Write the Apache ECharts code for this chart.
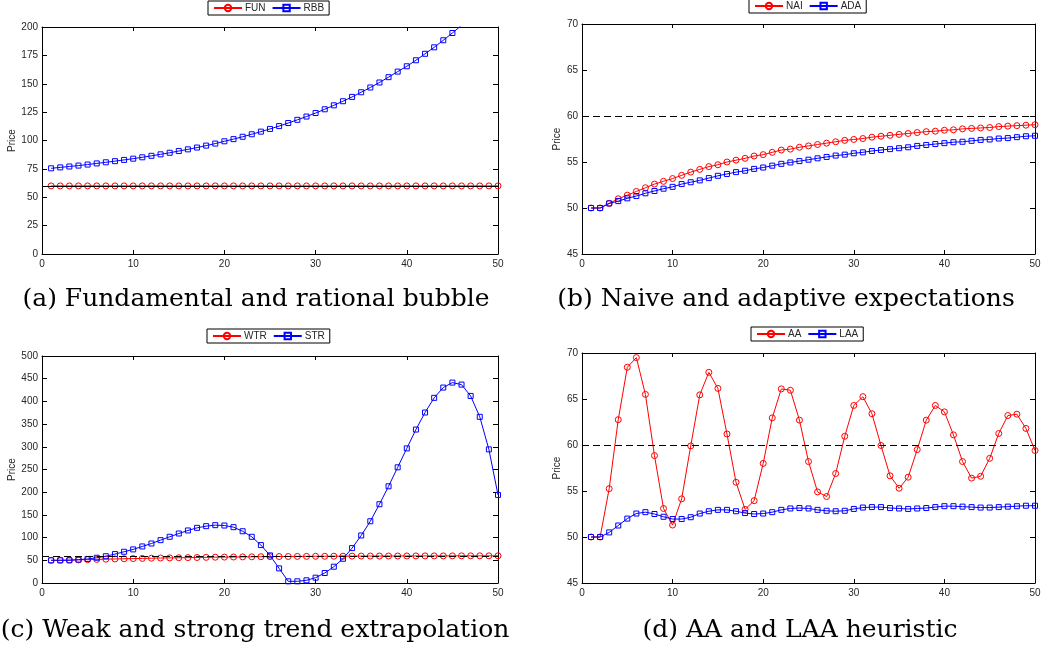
<!DOCTYPE html>
<html><head><meta charset="utf-8">
<script src="https://cdn.jsdelivr.net/npm/echarts@6/dist/echarts.min.js"></script>
<style>html,body{margin:0;padding:0;background:#fff}#c{width:1051px;height:652px}</style>
</head><body><div id="c"></div><script>
// ---------- data ----------
const periods = Array.from({length: 50}, (_, i) => i + 1);
const fundamentalPrice = 60;

// (a) fundamental and rational bubble
const FUN = [60,60,60,60,60,60,60,60,60,60,60,60,60,60,60,60,60,60,60,60,60,60,60,60,60,
             60,60,60,60,60,60,60,60,60,60,60,60,60,60,60,60,60,60,60,60,60,60,60,60,60];
const RBB = [75.5,76.3,77.1,77.9,78.8,79.8,80.8,81.8,82.9,84.0,85.2,86.5,87.8,89.2,90.7,92.2,93.8,95.5,97.3,99.3,
             101.2,103.3,105.5,107.8,110.2,112.7,115.4,118.2,121.1,124.2,127.5,131.0,134.6,138.4,142.5,146.7,151.1,155.8,160.7,165.4,
             170.7,176.4,182.1,188.3,194.7,201.5,209.0,217.0,225.5,234.5];

// (b) naive and adaptive expectations
const NAI = [50.0,50.0,50.5,51.0,51.4,51.8,52.2,52.6,52.9,53.2,53.55,53.9,54.2,54.5,54.7,55.0,55.2,55.4,55.65,55.8,
             56.05,56.3,56.4,56.6,56.75,56.9,57.05,57.2,57.35,57.45,57.55,57.7,57.8,57.9,58.0,58.1,58.2,58.3,58.35,58.45,
             58.5,58.6,58.65,58.7,58.75,58.85,58.9,58.95,59.0,59.05];
const ADA = [50.0,50.0,50.5,50.75,51.05,51.3,51.6,51.85,52.1,52.3,52.6,52.8,53.0,53.25,53.5,53.7,53.9,54.05,54.25,54.4,
             54.6,54.8,54.95,55.1,55.25,55.4,55.55,55.7,55.8,55.95,56.05,56.2,56.3,56.4,56.5,56.6,56.75,56.85,56.95,57.05,
             57.15,57.2,57.3,57.4,57.45,57.55,57.6,57.7,57.8,57.85];

// (c) weak and strong trend extrapolation
const WTR = [50,50,50.5,51,51.5,52,52.5,53,53.4,53.8,54.2,54.6,55,55.3,55.6,55.9,56.2,56.5,56.8,57,
             57.3,57.5,57.7,57.9,58.1,58.3,58.4,58.6,58.7,58.8,58.9,59.0,59.1,59.2,59.3,59.35,59.4,59.45,59.5,59.55,
             59.6,59.65,59.7,59.7,59.75,59.8,59.8,59.85,59.85,59.9];
const STR = [50,50,50,51.5,53,55.6,59,63.7,68.8,74,80.5,87,94.4,101.8,109,115.7,121.5,125.2,127.4,126.6,
             123,114,101.8,83.5,60.8,32.2,3.7,3.7,5.9,11.7,22,35.9,53.4,76.9,104.7,136,173.5,213,254.8,296.5,
             338,375.5,407.8,430.5,441.4,437,412,366,294.3,194];

// (d) AA and LAA heuristic
const AA = [50.0,50.0,55.25,62.75,68.45,69.5,65.5,58.85,53.1,51.3,54.15,59.9,65.45,67.9,66.15,61.2,55.95,53.0,53.95,58.0,
            62.95,66.1,65.95,62.7,58.2,54.9,54.4,56.9,60.95,64.3,65.25,63.4,59.95,56.65,55.3,56.5,59.5,62.7,64.3,63.6,
            61.1,58.2,56.4,56.6,58.55,61.25,63.2,63.35,61.8,59.4];
const LAA = [50.0,50.0,50.5,51.25,52.0,52.55,52.7,52.5,52.2,51.95,51.95,52.15,52.55,52.8,52.95,52.95,52.8,52.6,52.5,52.55,
             52.7,52.95,53.1,53.15,53.1,52.95,52.85,52.8,52.85,53.05,53.2,53.25,53.25,53.15,53.1,53.05,53.1,53.15,53.25,53.35,
             53.35,53.3,53.25,53.2,53.2,53.25,53.3,53.35,53.4,53.4];

const captions = ['(a) Fundamental and rational bubble', '(b) Naive and adaptive expectations',
                  '(c) Weak and strong trend extrapolation', '(d) AA and LAA heuristic'];

// ---------- layout ----------
const panels = [
  {grid:{left:42, top:27, width:456, height:227}, y:{min:0, max:200, interval:25}, nameGap:25,
   legend:{left:208, top:1}, s:[['FUN',FUN,'circle','#ff0000'],['RBB',RBB,'rect','#0000ff']], ref:'solid',
   cap:{x:256, y:299}},
  {grid:{left:582, top:24, width:453, height:230}, y:{min:45, max:70, interval:5}, nameGap:20,
   legend:{left:749, top:-1}, s:[['NAI',NAI,'circle','#ff0000'],['ADA',ADA,'rect','#0000ff']], ref:[7,4],
   cap:{x:786, y:299}},
  {grid:{left:42, top:356, width:456, height:227}, y:{min:0, max:500, interval:50}, nameGap:25,
   legend:{left:207, top:329}, s:[['WTR',WTR,'circle','#ff0000'],['STR',STR,'rect','#0000ff']], ref:[7,4],
   cap:{x:255, y:630}},
  {grid:{left:582, top:353, width:453, height:230}, y:{min:45, max:70, interval:5}, nameGap:20,
   legend:{left:751, top:327}, s:[['AA',AA,'circle','#ff0000'],['LAA',LAA,'rect','#0000ff']], ref:[7,4],
   cap:{x:800, y:630}}
];

const axisFont = {fontFamily:'Liberation Sans', fontSize:10, color:'#262626'};
const grids=[], xAxes=[], yAxes=[], series=[], legends=[], graphics=[];
panels.forEach((p, gi) => {
  grids.push(Object.assign({containLabel:false}, p.grid));
  const xBase = {type:'value', gridIndex:gi, min:0, max:50, interval:10,
    axisLine:{show:true, onZero:false, lineStyle:{color:'#000', width:1}},
    axisTick:{show:true, inside:true, length:4, lineStyle:{color:'#000'}},
    splitLine:{show:false}};
  xAxes.push(Object.assign({}, xBase, {position:'bottom',
    axisLabel:Object.assign({margin:5}, axisFont)}));
  xAxes.push(Object.assign({}, xBase, {position:'top', axisLabel:{show:false}}));
  const yBase = {type:'value', gridIndex:gi, min:p.y.min, max:p.y.max, interval:p.y.interval,
    axisLine:{show:true, onZero:false, lineStyle:{color:'#000', width:1}},
    axisTick:{show:true, inside:true, length:5, lineStyle:{color:'#000'}},
    splitLine:{show:false}};
  yAxes.push(Object.assign({}, yBase, {position:'left', name:'Price', nameLocation:'middle',
    nameGap:p.nameGap, nameRotate:90, nameTextStyle:{fontFamily:'Liberation Sans', fontSize:10, color:'#262626'},
    axisLabel:Object.assign({margin:4}, axisFont)}));
  yAxes.push(Object.assign({}, yBase, {position:'right', axisLabel:{show:false}}));
  p.s.forEach((s, k) => {
    series.push({
      name:s[0], type:'line', xAxisIndex:gi*2, yAxisIndex:gi*2,
      data: periods.map((t, i) => [t, s[1][i]]),
      symbol:s[2], symbolSize: s[2]==='circle' ? 6 : 5, showSymbol:true,
      lineStyle:{color:s[3], width:1},
      itemStyle:{color:'rgba(255,255,255,0)', borderColor:s[3], borderWidth:1},
      clip:true, animation:false, z: 2 + k,
      markLine: k === 0 ? {silent:true, symbol:['none','none'], label:{show:false}, animation:false,
        lineStyle:{color:'#000', type:p.ref, width:1}, data:[{yAxis:fundamentalPrice}], z:10} : undefined
    });
  });
  legends.push({left:p.legend.left, top:p.legend.top, orient:'horizontal',
    data:p.s.map(s => s[0]), backgroundColor:'#fff', borderColor:'#000', borderWidth:1,
    padding:[2,5,2,5], itemGap:6, itemWidth:28, itemHeight:8, selectedMode:false,
    textStyle:{fontFamily:'Liberation Sans', fontSize:10, color:'#262626', padding:[0,0,0,-2]}});
  graphics.push({type:'text', x:p.cap.x, y:p.cap.y,
    style:{text:captions[gi], font:'25px "DejaVu Serif"', fill:'#000', textAlign:'center', textVerticalAlign:'middle'}});
});

const chart = echarts.init(document.getElementById('c'), null, {renderer:'canvas'});
chart.setOption({animation:false, backgroundColor:'#fff', grid:grids, xAxis:xAxes, yAxis:yAxes,
  legend:legends, series:series, graphic:graphics});
</script></body></html>
